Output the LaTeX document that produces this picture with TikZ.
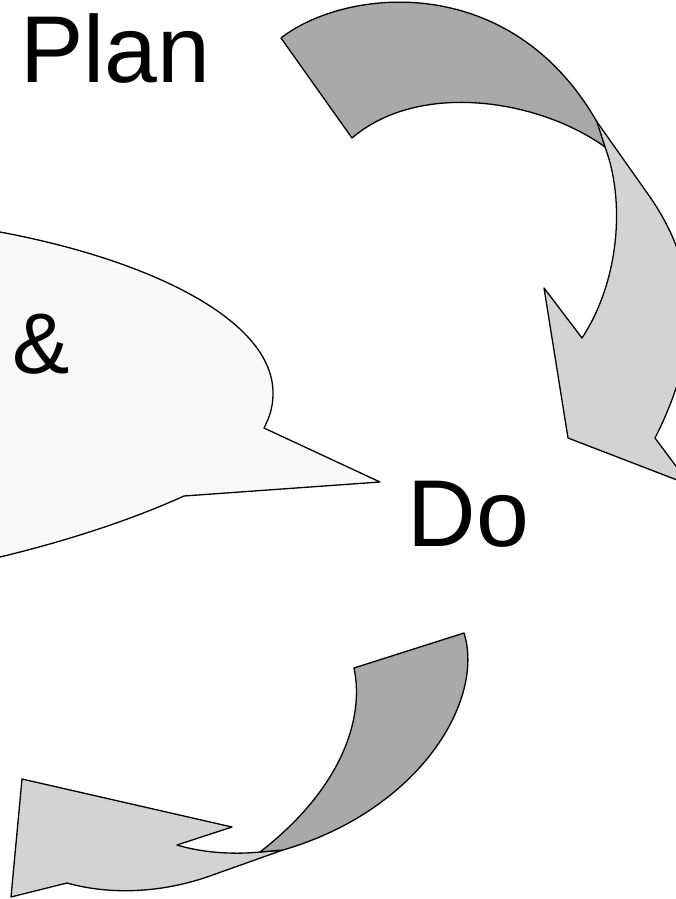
\documentclass[tikz,border=0pt]{standalone}
\usepackage{fontspec}
\setmainfont{Liberation Sans}
\usetikzlibrary{arrows.meta}
\definecolor{backgray}{HTML}{A9A9A9}
\definecolor{frontgray}{HTML}{D3D3D3}
\definecolor{bubblegray}{HTML}{F8F8F8}

\begin{document}
\begin{tikzpicture}[
    x=1pt, y=-1pt,
    back/.style={draw, line width=1.3pt, line join=round, fill=backgray},
    front/.style={draw, line width=1.3pt, line join=round, fill=frontgray},
    bubble/.style={draw, line width=1.3pt, line join=round, fill=bubblegray},
    word/.style={font=\fontsize{95}{100}\selectfont, inner sep=0pt, anchor=base west}
]

% Rahmen
\useasboundingbox (0,0) rectangle (676,899);
\clip (0,0) rectangle (676,899);

% Sprechblase links
\path[bubble] (0,232) .. controls (150,260) and (273,320) .. (273,393)
    .. controls (273,410) and (268,420) .. (264,428)
    -- (380,482) -- (184,496)
    .. controls (120,525) and (50,545) .. (0,557)
    -- (-20,561) -- (-20,228) -- cycle;

% oberer Pfeil, Vorderseite
\path[front] (590,112) -- (650,197)
    .. controls (690,255) and (710,330) .. (655,438)
    -- (690,485) -- (568,438) -- (544,288) -- (582,338)
    .. controls (620,280) and (625,200) .. (605,147) -- cycle;

% oberer Pfeil, Rueckseite
\path[back] (281,38) .. controls (345,-12) and (510,-30) .. (597,122)
    -- (605,147)
    .. controls (540,100) and (420,80) .. (352,138) -- cycle;

% unterer Pfeil, Vorderseite
\path[front] (283,850) -- (207,877)
    .. controls (160,893) and (110,895) .. (67,883)
    -- (11,897) -- (22,779) -- (232,827) -- (177,845)
    .. controls (200,852) and (230,855) .. (260,852) -- cycle;

% unterer Pfeil, Rueckseite
\path[back] (464,633) .. controls (485,700) and (420,810) .. (283,850)
    -- (260,852)
    .. controls (340,790) and (365,720) .. (354,668) -- cycle;

% Beschriftung
\node[word] (plan) at (20,82)    {Plan};
\node[word, font=\fontsize{86}{90}\selectfont] (amp) at (12,373) {\&};
\node[word] (do)   at (407.5,546) {Do};

\end{tikzpicture}
\end{document}
